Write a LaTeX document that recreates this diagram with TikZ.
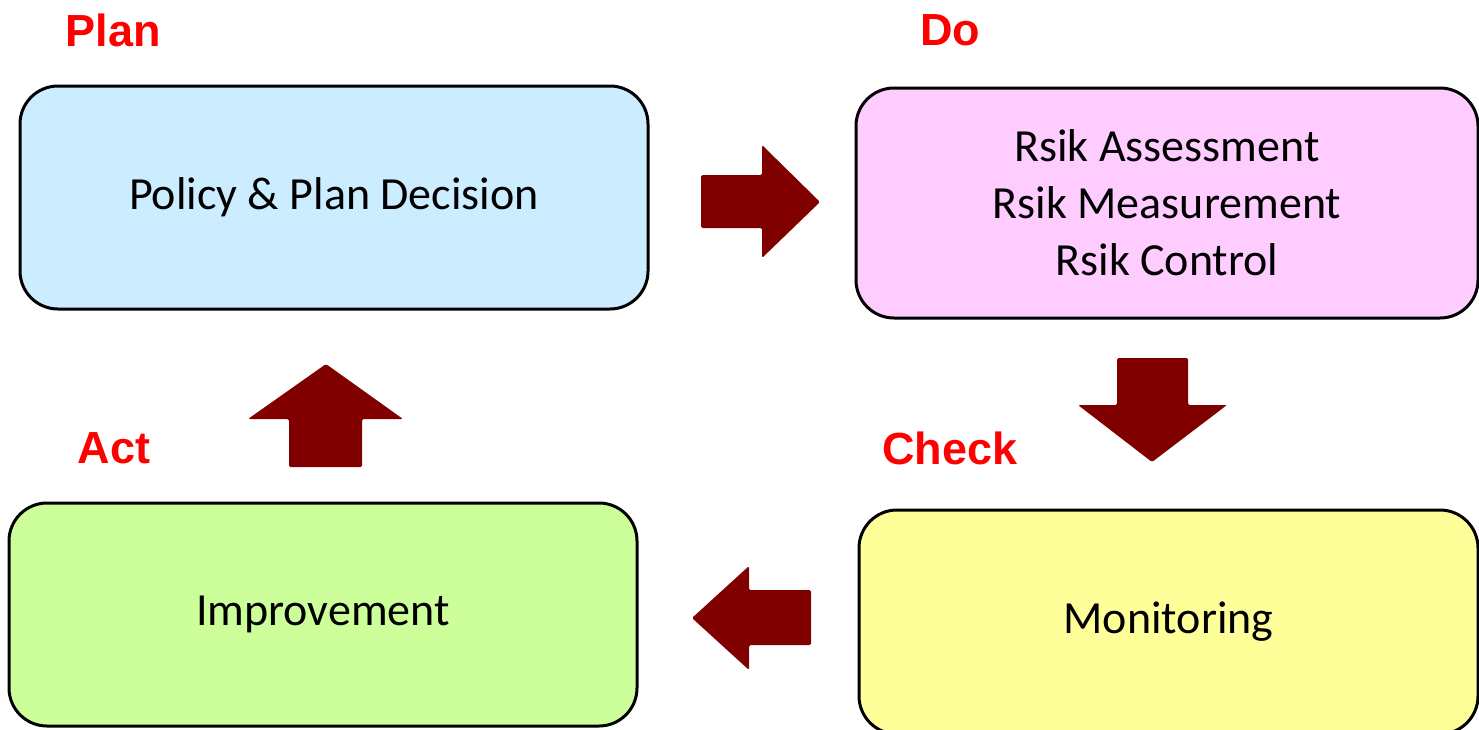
\documentclass[tikz,border=0pt]{standalone}
\usepackage{fontspec}
\setmainfont{Carlito}
\newfontfamily\labelfont{Liberation Sans}
\usetikzlibrary{positioning}
\definecolor{planfill}{HTML}{CCECFF}
\definecolor{dofill}{HTML}{FFCCFF}
\definecolor{checkfill}{HTML}{FFFF99}
\definecolor{actfill}{HTML}{CCFF99}
\definecolor{arrowred}{HTML}{800000}
\definecolor{labelred}{HTML}{FF0000}
\tikzset{
  stagebox/.style={draw=black, line width=3pt, rounded corners=38pt, align=center,
    font=\fontsize{46}{57}\selectfont, inner sep=0pt},
  phaselabel/.style={text=labelred, font=\labelfont\bfseries\fontsize{45}{50}\selectfont, inner sep=0pt},
  blockarrow/.style={fill=arrowred, draw=none, rounded corners=1.5pt},
}
\begin{document}
\begin{tikzpicture}[x=1pt,y=-1pt]
\useasboundingbox (0,0) rectangle (1479,729);
% boxes
\node[stagebox, fill=planfill, minimum width=628pt, minimum height=223pt] (plan) at (334,197.5) {Policy \& Plan Decision};
\node[stagebox, fill=dofill, minimum width=622pt, minimum height=230pt] (do) at (1167,203) {Rsik Assessment\\Rsik Measurement\\Rsik Control};
\node[stagebox, fill=checkfill, minimum width=619pt, minimum height=224pt] (check) at (1168.5,622) {Monitoring};
\node[stagebox, fill=actfill, minimum width=628pt, minimum height=223pt] (act) at (323,614.5) {Improvement};
% labels
\node[phaselabel] (lplan) at (113,30) {Plan};
\node[phaselabel] (ldo) at (950,30) {Do};
\node[phaselabel] (lcheck) at (950,448) {Check};
\node[phaselabel] (lact) at (114,448) {Act};
% block arrows
\fill[blockarrow] (701,175) -- (762,175) -- (762,145) -- (820,202) -- (762,258) -- (762,228) -- (701,228) -- cycle;
\fill[blockarrow] (1117,358) -- (1188,358) -- (1188,405) -- (1227,405) -- (1152,462) -- (1078,405) -- (1117,405) -- cycle;
\fill[blockarrow] (811,590) -- (749,590) -- (749,566) -- (692,618) -- (749,670) -- (749,645) -- (811,645) -- cycle;
\fill[blockarrow] (289,467) -- (289,419) -- (248,419) -- (326,364) -- (403,419) -- (362,419) -- (362,467) -- cycle;
\end{tikzpicture}
\end{document}
